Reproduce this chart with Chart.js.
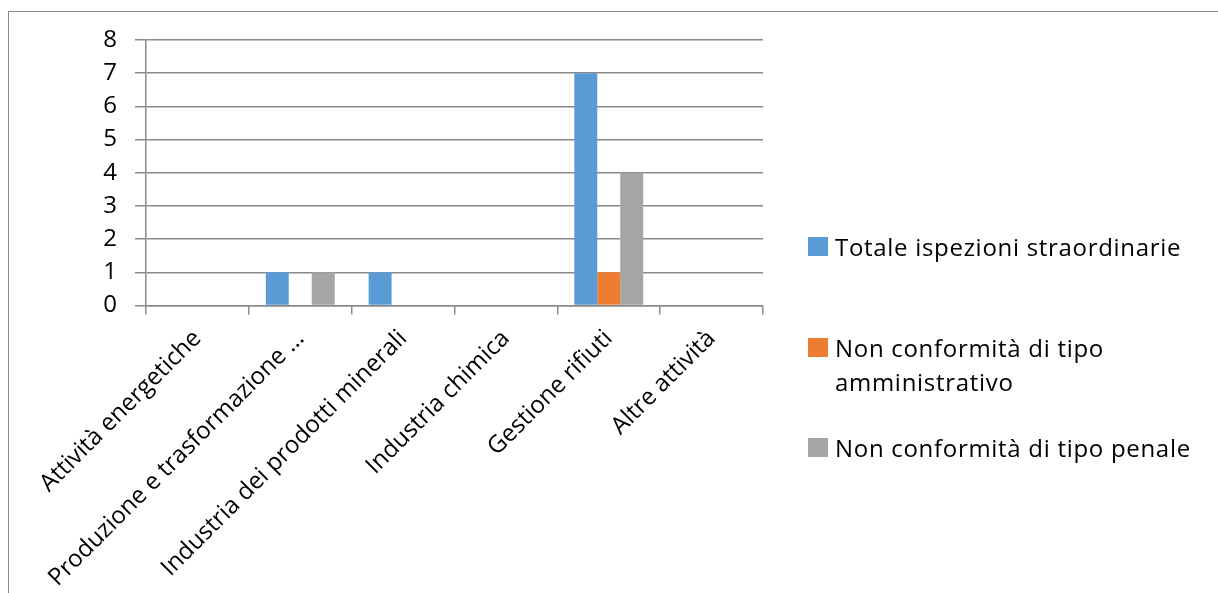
<!DOCTYPE html>
<html>
<head>
<meta charset="utf-8">
<script src="https://cdn.jsdelivr.net/npm/chart.js@4/dist/chart.umd.min.js"></script>
<style>
  html, body { margin: 0; padding: 0; background: #fff; overflow: hidden; }
  #wrap { position: relative; width: 1218px; height: 593px; }
  #frame { position: absolute; left: 8px; top: 11px; width: 1300px; height: 700px;
           border-left: 1.5px solid #8a8a8a; border-top: 1.5px solid #8a8a8a; pointer-events: none; }
  canvas { position: absolute; left: 0; top: 0; }
  #legend { position: absolute; left: 0; top: 0; font-family: "Open Sans", sans-serif; font-size: 24px; letter-spacing: 0.7px; color: #000; }
  .li { position: absolute; left: 808px; }
  .li .box { position: absolute; left: 0; top: 0; width: 20px; height: 19px; }
  .li .txt { position: absolute; left: 27px; top: -7.5px; width: 385px; line-height: 34px; white-space: normal; }
</style>
</head>
<body>
<div id="wrap">
  <div id="frame"></div>
  <canvas id="c" width="1218" height="593"></canvas>
  <div id="legend"></div>
</div>
<script>
const categories = [
  "Attività energetiche",
  "Produzione e trasformazione …",
  "Industria dei prodotti minerali",
  "Industria chimica",
  "Gestione rifiuti",
  "Altre attività"
];
const seriesNames = [
  "Totale ispezioni straordinarie",
  "Non conformità di tipo amministrativo",
  "Non conformità di tipo penale"
];
const totaleIspezioni = [0, 1, 1, 0, 7, 0];
const nonConfAmministrativo = [0, 0, 0, 0, 1, 0];
const nonConfPenale = [0, 1, 0, 0, 4, 0];
const yTicks = [0, 1, 2, 3, 4, 5, 6, 7, 8];

const colors = ["#5B9BD5", "#ED7D31", "#A5A5A5"];
const legendTops = [237, 338, 438];
const FONT = { family: "'Open Sans', sans-serif", size: 24 };
const GRID = "#8a8a8a";

const htmlLegend = {
  id: "htmlLegend",
  afterUpdate(chart) {
    const el = document.getElementById("legend");
    el.innerHTML = "";
    chart.data.datasets.forEach((ds, i) => {
      const item = document.createElement("div");
      item.className = "li";
      item.style.top = legendTops[i] + "px";
      const box = document.createElement("div");
      box.className = "box";
      box.style.background = ds.backgroundColor;
      const txt = document.createElement("div");
      txt.className = "txt";
      txt.textContent = ds.label;
      item.appendChild(box);
      item.appendChild(txt);
      el.appendChild(item);
    });
  }
};

new Chart(document.getElementById("c"), {
  type: "bar",
  data: {
    labels: categories,
    datasets: [
      { label: seriesNames[0], data: totaleIspezioni, backgroundColor: colors[0] },
      { label: seriesNames[1], data: nonConfAmministrativo, backgroundColor: colors[1] },
      { label: seriesNames[2], data: nonConfPenale, backgroundColor: colors[2] }
    ]
  },
  options: {
    responsive: false,
    devicePixelRatio: 1,
    animation: false,
    layout: { padding: { left: 0, top: 40, right: 455, bottom: 0 } },
    datasets: { bar: { categoryPercentage: 0.67, barPercentage: 1.0, borderWidth: 0 } },
    plugins: { legend: { display: false }, tooltip: { enabled: false } },
    scales: {
      x: {
        offset: true,
        grid: { offset: true, drawOnChartArea: false, drawTicks: true, tickLength: 9, color: GRID, lineWidth: 1.5 },
        border: { display: true, color: GRID, width: 1.5 },
        ticks: { font: FONT, color: "#000", minRotation: 45, maxRotation: 45, autoSkip: false, padding: 10 },
        afterFit(s) { s.height = 593 - 305.5; }
      },
      y: {
        min: 0, max: 8,
        afterBuildTicks(s) { s.ticks = yTicks.map(v => ({ value: v })); },
        grid: { color: GRID, lineWidth: 1.5, drawTicks: true, tickLength: 11 },
        border: { display: true, color: GRID, width: 1.5 },
        ticks: { font: FONT, color: "#000", padding: 18 },
        afterFit(s) { s.width = 146; }
      }
    }
  },
  plugins: [htmlLegend]
});
</script>
</body>
</html>
